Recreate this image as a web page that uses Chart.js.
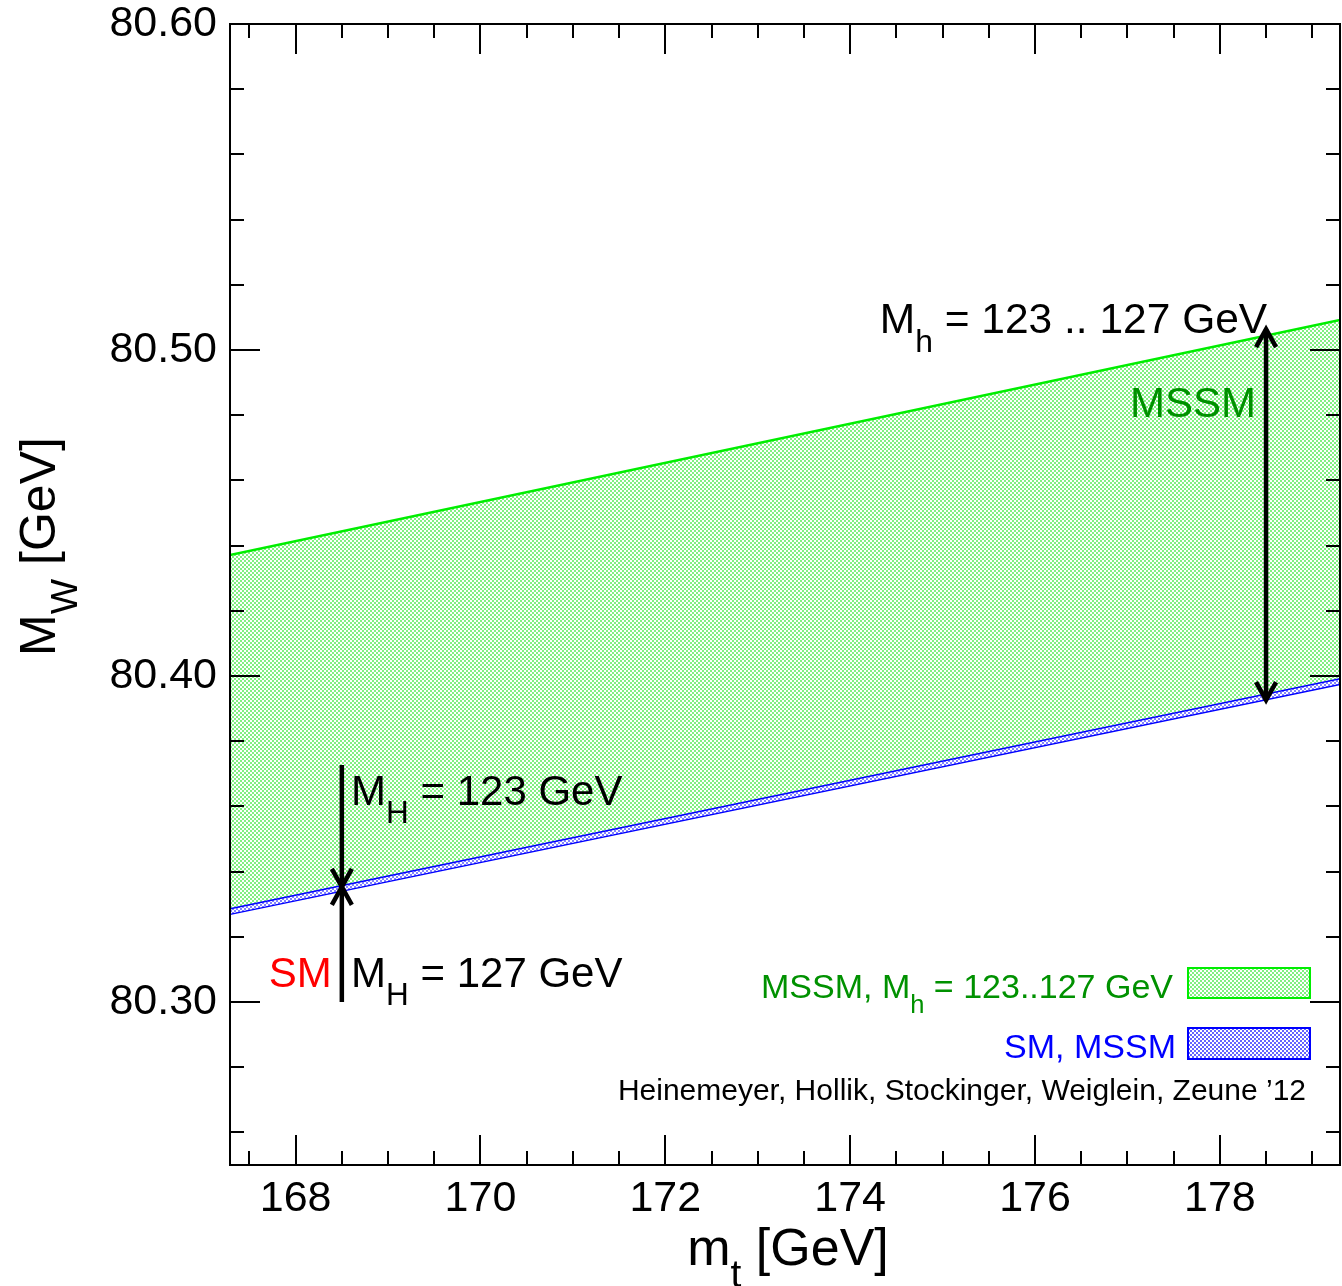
<!DOCTYPE html>
<html>
<head>
<meta charset="utf-8">
<script src="https://cdn.jsdelivr.net/npm/chart.js@4.4.1/dist/chart.umd.min.js"></script>
<style>
  body { margin: 0; background: #fff; }
  #wrap { width: 1342px; height: 1286px; }
</style>
</head>
<body>
<div id="wrap"><canvas id="myChart" width="1342" height="1286"></canvas></div>
<script>
// Ejes: m_t [GeV] y M_W [GeV]
var mtRange = [167.29, 179.30];
var mwRange = [80.25, 80.60];
var mtStep = 0.5;
var mwStep = 0.02;

// Bandas (valores en los bordes del eje m_t)
var mtEdges = [167.29, 179.30];
var mssmUpper = [80.4371, 80.5092];
var smUpper = [80.3288, 80.3994];
var smLower = [80.3271, 80.3976];

// Flechas
var arrowMt = [168.5, 168.5, 178.5];
var arrowFrom = [80.3727, 80.3000, 80.3926];
var arrowTo = [80.3353, 80.3353, 80.5064];
var arrowBoth = [false, false, true];

var FONT = '"Liberation Sans", Arial, Helvetica, sans-serif';

function toPoints(ys) {
    return mtEdges.map(function(x, i) { return { x: x, y: ys[i] }; });
}

// patrón de puntos para el relleno
function dotPattern(dot, bg) {
    var c = document.createElement('canvas');
    c.width = 4; c.height = 4;
    var g = c.getContext('2d');
    g.fillStyle = bg; g.fillRect(0, 0, 4, 4);
    g.fillStyle = dot;
    g.fillRect(0, 0, 2, 2);
    g.fillRect(2, 2, 2, 2);
    return document.createElement('canvas').getContext('2d').createPattern(c, 'repeat');
}
var greenFill = dotPattern('rgb(130,240,130)', '#ffffff');
var blueFill = dotPattern('rgb(130,130,255)', '#ffffff');
var blueBox = dotPattern('rgb(100,100,255)', '#ffffff');

// texto con subíndices: parts = [[texto, esSub], ...]
function richText(ctx, parts, x, y, size, align, color) {
    var sub = size * 0.75;
    var w = 0;
    parts.forEach(function(p) {
        ctx.font = (p[1] ? sub : size) + 'px ' + FONT;
        w += ctx.measureText(p[0]).width;
    });
    var cx = align === 'right' ? x - w : (align === 'center' ? x - w / 2 : x);
    ctx.fillStyle = color;
    ctx.textAlign = 'left';
    ctx.textBaseline = 'alphabetic';
    parts.forEach(function(p) {
        ctx.font = (p[1] ? sub : size) + 'px ' + FONT;
        ctx.fillText(p[0], cx, p[1] ? y + size * 0.43 : y);
        cx += ctx.measureText(p[0]).width;
    });
}

function drawArrowHead(ctx, x, y, dir) {
    ctx.beginPath();
    ctx.moveTo(x - 10, y + dir * 18);
    ctx.lineTo(x, y);
    ctx.lineTo(x + 10, y + dir * 18);
    ctx.stroke();
}

var isMajorX = function(v) { return Math.abs(v / 2 - Math.round(v / 2)) < 1e-6; };
var isMajorY = function(v) { return Math.abs(v * 10 - Math.round(v * 10)) < 1e-6; };

var overlay = {
    id: 'overlay',
    afterDatasetsDraw: function(chart) {
        var ctx = chart.ctx, a = chart.chartArea;
        var xs = chart.scales.x, ys = chart.scales.y;
        ctx.save();
        ctx.strokeStyle = '#000';
        ctx.lineWidth = 2;
        ctx.lineCap = 'butt';

        // marco y marcas de los ejes
        ctx.strokeRect(a.left, a.top, a.right - a.left, a.bottom - a.top);
        ctx.beginPath();
        xs.ticks.forEach(function(t) {
            var px = Math.round(xs.getPixelForValue(t.value));
            var L = isMajorX(t.value) ? 30 : 14;
            ctx.moveTo(px, a.bottom); ctx.lineTo(px, a.bottom - L);
            ctx.moveTo(px, a.top); ctx.lineTo(px, a.top + L);
        });
        ys.ticks.forEach(function(t) {
            var py = Math.round(ys.getPixelForValue(t.value));
            var L = isMajorY(t.value) ? 30 : 14;
            ctx.moveTo(a.left, py); ctx.lineTo(a.left + L, py);
            ctx.moveTo(a.right, py); ctx.lineTo(a.right - L, py);
        });
        ctx.stroke();

        // flechas
        ctx.lineWidth = 4.5;
        arrowMt.forEach(function(m, i) {
            var px = xs.getPixelForValue(m);
            var p0 = ys.getPixelForValue(arrowFrom[i]);
            var p1 = ys.getPixelForValue(arrowTo[i]);
            ctx.beginPath();
            ctx.moveTo(px, p0); ctx.lineTo(px, p1);
            ctx.stroke();
            var dir = p1 > p0 ? -1 : 1;
            drawArrowHead(ctx, px, p1, dir);
            if (arrowBoth[i]) drawArrowHead(ctx, px, p0, -dir);
        });

        // anotaciones
        var X = function(v) { return xs.getPixelForValue(v); };
        var Y = function(v) { return ys.getPixelForValue(v); };
        richText(ctx, [['M', 0], ['H', 1], [' = 123 GeV', 0]], X(168.6), Y(80.3604), 42, 'left', '#000');
        richText(ctx, [['M', 0], ['H', 1], [' = 127 GeV', 0]], X(168.6), Y(80.3047), 42, 'left', '#000');
        richText(ctx, [['SM', 0]], X(168.39), Y(80.3047), 42, 'right', '#ff0000');
        richText(ctx, [['M', 0], ['h', 1], [' = 123 .. 127 GeV', 0]], X(174.32), Y(80.5051), 42.5, 'left', '#000');
        richText(ctx, [['MSSM', 0]], X(178.39), Y(80.4794), 42, 'right', 'rgb(0,145,0)');

        // leyenda
        var bx = a.right - 152, bw = 122, bh = 30;
        ctx.lineWidth = 2;
        ctx.fillStyle = greenFill;
        ctx.fillRect(bx, 968, bw, bh);
        ctx.strokeStyle = '#00ee00';
        ctx.strokeRect(bx, 968, bw, bh);
        ctx.fillStyle = blueBox;
        ctx.fillRect(bx, 1028, bw, bh + 1);
        ctx.strokeStyle = '#0000ff';
        ctx.strokeRect(bx, 1028, bw, bh + 1);
        richText(ctx, [['MSSM, M', 0], ['h', 1], [' = 123..127 GeV', 0]], bx - 15, 998, 34, 'right', 'rgb(0,145,0)');
        richText(ctx, [['SM, MSSM', 0]], bx - 12, 1058, 34, 'right', '#0000ff');
        richText(ctx, [['Heinemeyer, Hollik, Stockinger, Weiglein, Zeune \u201912', 0]], a.right - 34, 1100, 30, 'right', '#000');

        // títulos de los ejes
        richText(ctx, [['m', 0], ['t', 1], [' [GeV]', 0]], (a.left + a.right) / 2 + 3, 1265, 52, 'center', '#000');
        ctx.translate(55, (a.top + a.bottom) / 2 - 48);
        ctx.rotate(-Math.PI / 2);
        richText(ctx, [['M', 0], ['W', 1], [' [GeV]', 0]], 0, 0, 50, 'center', '#000');
        ctx.restore();
    }
};

var ctx = document.getElementById('myChart').getContext('2d');
var myChart = new Chart(ctx, {
    type: 'line',
    data: {
        datasets: [{
            label: 'MSSM, Mh = 123..127 GeV',
            data: toPoints(mssmUpper),
            borderColor: '#00ee00',
            borderWidth: 2.5,
            backgroundColor: greenFill,
            fill: '+1',
            pointRadius: 0
        }, {
            label: 'SM, MSSM',
            data: toPoints(smUpper),
            borderColor: '#0000ff',
            borderWidth: 3,
            backgroundColor: blueFill,
            fill: '+1',
            pointRadius: 0
        }, {
            label: 'SM, MSSM (inf)',
            data: toPoints(smLower),
            borderColor: '#0000ff',
            borderWidth: 3,
            fill: false,
            pointRadius: 0
        }]
    },
    options: {
        responsive: false,
        devicePixelRatio: 1,
        animation: false,
        layout: { padding: { top: 24, right: 2, left: 0, bottom: 0 } },
        plugins: { legend: { display: false }, tooltip: { enabled: false } },
        scales: {
            x: {
                type: 'linear',
                min: mtRange[0],
                max: mtRange[1],
                grid: { display: false, drawTicks: false },
                border: { display: false },
                afterFit: function(s) { s.height = 121; s.paddingLeft = 0; s.paddingRight = 0; },
                ticks: {
                    stepSize: mtStep,
                    includeBounds: false,
                    autoSkip: false,
                    maxRotation: 0,
                    minRotation: 0,
                    padding: 8,
                    color: '#000',
                    font: { family: FONT, size: 43 },
                    callback: function(v) { return isMajorX(v) ? String(Math.round(v)) : ''; }
                }
            },
            y: {
                type: 'linear',
                min: mwRange[0],
                max: mwRange[1],
                grid: { display: false, drawTicks: false },
                border: { display: false },
                afterFit: function(s) { s.width = 230; s.paddingTop = 0; s.paddingBottom = 0; },
                ticks: {
                    stepSize: mwStep,
                    includeBounds: false,
                    autoSkip: false,
                    padding: 13,
                    color: '#000',
                    font: { family: FONT, size: 43 },
                    callback: function(v) { return isMajorY(v) ? v.toFixed(2) : ''; }
                }
            }
        }
    },
    plugins: [overlay]
});
</script>
</body>
</html>
